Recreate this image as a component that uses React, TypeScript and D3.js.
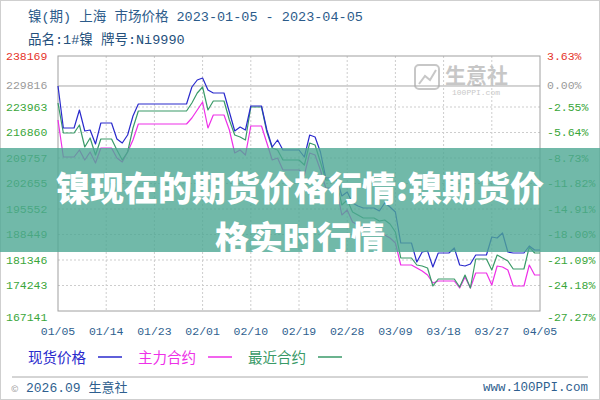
import * as d3 from "d3"

// 镍(期) 上海 市场价格, daily values Jan 5 - Apr 5 2023 (weekends / holidays carry the last quote)
const parseDay = d3.timeParse("%Y-%m-%d")
const firstDay = parseDay("2023-01-05")!
const lastDay = parseDay("2023-04-05")!

const xTickDays = [
  "2023-01-05", "2023-01-14", "2023-01-23", "2023-02-01", "2023-02-10", "2023-02-19",
  "2023-02-28", "2023-03-09", "2023-03-18", "2023-03-27", "2023-04-05",
]
const priceTicks = [
  238169, 229816, 223963, 216860, 209757, 202655, 195552, 188449, 181346, 174243, 167141,
]
const pctTicks = [
  "3.63%", "0.00%", "-2.55%", "-5.64%", "-8.73%", "-11.82%", "-14.91%", "-18.00%",
  "-21.09%", "-24.18%", "-27.27%",
]
const basePrice = 229816

// 现货价格
const spotPrice = [
  229816, 218114, 218114, 218114,
  223128, 217278, 217557, 213657, 219507, 219507, 219507,
  215050, 213936, 216164, 221456, 224799, 224799, 224799,
  224799, 224799, 224799, 224799, 224799, 224799, 224799,
  229534, 231484, 232041, 228698, 227863, 227863, 227863,
  222571, 217278, 218392, 217557, 224242, 224242, 224242,
  217557, 212822, 214771, 211986, 211986, 211986, 211986,
  210036, 216164, 215607, 211429, 204187, 204187, 204187,
  199173, 200287, 197223, 196388, 195831, 195831, 195831,
  194995, 197223, 196109, 194717, 186082, 186082, 186082,
  180790, 183575, 183853, 179397, 183296, 183296, 183296,
  184689, 179954, 179675, 180232, 182739, 182739, 182739,
  187753, 187474, 188867, 183575, 183296, 183296, 183296,
  185246, 184132, 184132,
]

// 主力合约
const mainContract = [
  220342, 210036, 210036, 210036,
  211986, 209201, 211429, 208365, 212543, 212543, 212543,
  209758, 208644, 211429, 214771, 219228, 219228, 219228,
  219228, 219228, 219228, 219228, 219228, 219228, 219228,
  220899, 223128, 225356, 218114, 221735, 221735, 221735,
  217557, 211150, 211986, 210593, 218671, 218671, 218671,
  213936, 209201, 209758, 206415, 206415, 206415, 206415,
  205022, 211150, 210593, 206415, 201401, 201401, 201401,
  193881, 195274, 191931, 191095, 190260, 190260, 190260,
  189146, 188310, 187474, 186082, 179954, 179954, 179954,
  179118, 178283, 177168, 174940, 175497, 175497, 175497,
  175497, 173547, 176611, 173547, 177726, 177726, 177726,
  174383, 179675, 179397, 178561, 174105, 174105, 174105,
  179954, 177168, 177168,
]

// 最近合约
const nearContract = [
  225077, 216721, 216721, 216721,
  218949, 212822, 215328, 210593, 215050, 215050, 215050,
  211986, 209201, 211429, 218114, 222849, 222849, 222849,
  222849, 222849, 222849, 222849, 222849, 222849, 222849,
  225077, 227863, 229534, 223128, 225634, 225634, 225634,
  220342, 216164, 215607, 214771, 223963, 223963, 223963,
  217000, 212543, 211986, 209201, 209201, 209201, 209201,
  207808, 213936, 213379, 208644, 203630, 203630, 203630,
  196666, 198059, 194717, 193881, 193045, 193045, 193045,
  192210, 192488, 191374, 189146, 181904, 181904, 181904,
  179954, 179675, 179118, 174105, 176054, 176054, 176054,
  176054, 173826, 177168, 173547, 181625, 181625, 181625,
  178561, 182739, 181904, 181068, 178840, 178840, 178840,
  184968, 183296, 183296,
]

const series = [
  { name: "主力合约", values: mainContract, color: "#ee30e8" },
  { name: "最近合约", values: nearContract, color: "#3a9a68" },
  { name: "现货价格", values: spotPrice, color: "#2a2acc" },
]
const legendOrder = ["现货价格", "主力合约", "最近合约"]

const mono = "'Liberation Mono', 'DejaVu Sans Mono', monospace"
const cjk = "'Noto Sans CJK SC', 'Noto Sans', sans-serif"
const mixed = "'Liberation Mono', 'Noto Sans CJK SC', monospace"

export default function App() {
  const margin = { left: 58, right: 540, top: 56, bottom: 311 }
  const days = d3.timeDay.range(firstDay, d3.timeDay.offset(lastDay, 1))

  const x = d3.scaleTime().domain([firstDay, lastDay]).range([margin.left, margin.right])
  const y = d3
    .scaleLinear()
    .domain([d3.min(priceTicks)!, d3.max(priceTicks)!])
    .range([margin.bottom, margin.top])

  const line = d3
    .line<number>()
    .x((_, i) => x(days[i]))
    .y((d) => y(d))

  const tickColor = (v: number) =>
    v > basePrice ? "#e5332a" : v === basePrice ? "#9a9a9a" : "#3aa63a"

  // bottom label sits a little under its grid line
  const labelY = (v: number, i: number) =>
    i === priceTicks.length - 1 ? y(v) + 6 : y(v)

  return (
    <svg
      width={600}
      height={400}
      style={{ position: "absolute", left: 0, top: 0, background: "#fff" }}
    >
      <rect x={0.5} y={0.5} width={599} height={399} fill="#fff" stroke="#cfcfcf" />

      {/* title */}
      <text x={28} y={21} fontFamily={mixed} fontSize={13.5} fill="#2b5b8a">
        镍(期) 上海 市场价格 2023-01-05 - 2023-04-05
      </text>
      <text x={28} y={44} fontFamily={mixed} fontSize={13.5} fill="#24507c">
        品名:1#镍 牌号:Ni9990
      </text>

      {/* watermark */}
      <g opacity={0.55}>
        <rect x={415} y={65} width={24} height={24} rx={4} fill="none" stroke="#9a9a9a" strokeWidth={2} />
        <path d="M419,84 L425,76 L430,80 L436,70" fill="none" stroke="#9a9a9a" strokeWidth={2} />
        <text x={445} y={83} fontFamily={cjk} fontSize={21} fontWeight={700} fill="#9a9a9a">
          生意社
        </text>
        <text x={452} y={95} fontFamily={mono} fontSize={8} fill="#9a9a9a">
          100PPI.com
        </text>
      </g>

      {/* grid */}
      {priceTicks.slice(1, -1).map((v) => (
        <line
          key={v}
          x1={margin.left}
          x2={margin.right}
          y1={y(v)}
          y2={y(v)}
          stroke={v === basePrice ? "#a8a8a8" : "#cdcdcd"}
          strokeDasharray={v === basePrice ? undefined : "2,2"}
        />
      ))}
      {xTickDays.slice(1, -1).map((d) => (
        <line
          key={d}
          x1={x(parseDay(d)!)}
          x2={x(parseDay(d)!)}
          y1={margin.top}
          y2={margin.bottom}
          stroke="#cdcdcd"
          strokeDasharray="2,2"
        />
      ))}
      <rect
        x={margin.left}
        y={margin.top}
        width={margin.right - margin.left}
        height={margin.bottom - margin.top}
        fill="none"
        stroke="#a0a0a0"
      />

      {/* axis labels */}
      {priceTicks.map((v, i) => (
        <text
          key={v}
          x={6}
          y={labelY(v, i)}
          dominantBaseline="central"
          fontFamily={mono}
          fontSize={11.5}
          fill={tickColor(v)}
        >
          {v}
        </text>
      ))}
      {pctTicks.map((p, i) => (
        <text
          key={p}
          x={547}
          y={labelY(priceTicks[i], i)}
          dominantBaseline="central"
          fontFamily={mono}
          fontSize={11.5}
          fill={tickColor(priceTicks[i])}
        >
          {p}
        </text>
      ))}
      {xTickDays.map((d) => (
        <text
          key={d}
          x={x(parseDay(d)!)}
          y={331}
          textAnchor="middle"
          dominantBaseline="central"
          fontFamily={mono}
          fontSize={11.5}
          fill="#2f5f8f"
        >
          {d3.timeFormat("%m/%d")(parseDay(d)!)}
        </text>
      ))}

      {/* series */}
      {series.map((s) => (
        <path
          key={s.name}
          d={line(s.values) ?? ""}
          fill="none"
          stroke={s.color}
          strokeWidth={1.2}
          strokeLinejoin="round"
        />
      ))}

      {/* legend */}
      {legendOrder.map((name, i) => {
        const s = series.find((d) => d.name === name)!
        const lx = 28 + i * 110
        return (
          <g key={name}>
            <text
              x={lx}
              y={356}
              dominantBaseline="central"
              fontFamily={cjk}
              fontSize={14.5}
              fill={s.color}
            >
              {name}
            </text>
            <line x1={lx + 70} x2={lx + 94} y1={357} y2={357} stroke={s.color} strokeWidth={1.5} />
          </g>
        )
      })}

      {/* footer */}
      <line x1={12} x2={588} y1={377} y2={377} stroke="#aaaaaa" />
      <text x={11} y={388} dominantBaseline="central" fontFamily={cjk} fontSize={9} fill="#9a9a9a">
        ©
      </text>
      <text x={26} y={388} dominantBaseline="central" fontFamily={mixed} fontSize={13} fill="#2f5f8f">
        2026.09 生意社
      </text>
      <text
        x={588}
        y={388}
        textAnchor="end"
        dominantBaseline="central"
        fontFamily={mono}
        fontSize={12.5}
        fill="#2f5f8f"
      >
        www.100PPI.com
      </text>

      {/* overlay banner */}
      <rect x={0} y={148} width={600} height={104} fill="#4ea893" opacity={0.8} />
      <text
        x={300}
        y={186}
        textAnchor="middle"
        dominantBaseline="central"
        fontFamily={cjk}
        fontSize={34}
        fontWeight={900}
        fill="#fff"
      >
        镍现在的期货价格行情:镍期货价
      </text>
      <text
        x={300}
        y={236}
        textAnchor="middle"
        dominantBaseline="central"
        fontFamily={cjk}
        fontSize={34}
        fontWeight={900}
        fill="#fff"
      >
        格实时行情
      </text>
    </svg>
  )
}
